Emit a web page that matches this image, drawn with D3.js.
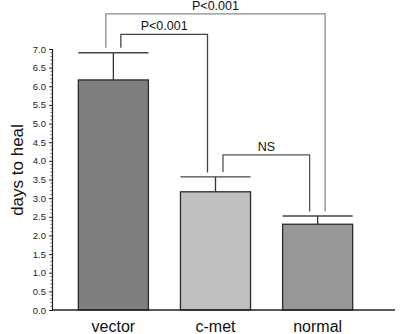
<!DOCTYPE html>
<html><head><meta charset="utf-8">
<script src="https://cdn.jsdelivr.net/npm/d3@7"></script>
<style>body{margin:0;background:#fff}svg{display:block;font-family:Arial,"Liberation Sans",sans-serif}</style>
</head><body>
<svg id="c" width="400" height="334"></svg>
<script>
const categories = ["vector", "c-met", "normal"];
const means = [6.17, 3.17, 2.3];
const errors = [0.73, 0.4, 0.22];
const barColors = ["#7f7f7f", "#c0c0c0", "#979797"];
const yTicks = [0, 0.5, 1, 1.5, 2, 2.5, 3, 3.5, 4, 4.5, 5, 5.5, 6, 6.5, 7];
const tickLabels = ["0.0","0.5","1.0","1.5","2.0","2.5","3.0","3.5","4.0","4.5","5.0","5.5","6.0","6.5","7.0"];
const yLabel = "days to heal";
// comparisons: [from, to, label, bracket level (data units)]
const compFrom = ["vector", "vector", "c-met"];
const compTo = ["normal", "c-met", "normal"];
const compLabel = ["P<0.001", "P<0.001", "NS"];
const compLevel = [7.94, 7.39, 4.16];

const svg = d3.select("#c");
const y = d3.scaleLinear().domain([0, 7]).range([310, 49]);
const x = d3.scaleBand().domain(categories).range([62.3, 368.7]).paddingInner(0.314).paddingOuter(0.157);
const bw = x.bandwidth();
const cx = c => x(c) + bw / 2;

// y axis
const axis = d3.axisLeft(y).tickValues(yTicks).tickFormat((d, i) => tickLabels[i]).tickSize(3).tickPadding(3);
const gA = svg.append("g").attr("transform", "translate(52,0)").call(axis);
gA.select(".domain").attr("stroke", "#222").attr("stroke-width", 1.2);
gA.selectAll(".tick line").attr("stroke", "#222");
gA.selectAll(".tick text").attr("font-size", "9.5px").attr("fill", "#222").attr("font-family", "Arial, 'Liberation Sans', sans-serif");
// minor ticks
const minor = d3.range(0, 7.001, 0.1).filter(v => Math.abs(v * 2 - Math.round(v * 2)) > 1e-6);
svg.append("g").selectAll("line").data(minor).join("line")
  .attr("x1", 50.5).attr("x2", 52).attr("y1", d => y(d)).attr("y2", d => y(d))
  .attr("stroke", "#444").attr("stroke-width", 0.8);

// bars
svg.append("g").selectAll("rect").data(categories).join("rect")
  .attr("x", d => x(d)).attr("width", bw)
  .attr("y", (d, i) => y(means[i])).attr("height", (d, i) => y(0) - y(means[i]))
  .attr("fill", (d, i) => barColors[i]).attr("stroke", "#2a2a2a").attr("stroke-width", 1.3);

// baseline
svg.append("line").attr("x1", 52).attr("x2", 395).attr("y1", y(0)).attr("y2", y(0)).attr("stroke", "#222").attr("stroke-width", 1.3);

// error bars
const eb = svg.append("g");
categories.forEach((c, i) => {
  eb.append("line").attr("x1", cx(c)).attr("x2", cx(c)).attr("y1", y(means[i])).attr("y2", y(means[i] + errors[i])).attr("stroke", "#333").attr("stroke-width", 1.3);
  eb.append("line").attr("x1", x(c)).attr("x2", x(c) + bw).attr("y1", y(means[i] + errors[i])).attr("y2", y(means[i] + errors[i])).attr("stroke", "#444").attr("stroke-width", 1.4);
});

// brackets
const tops = {};
categories.forEach((c, i) => tops[c] = y(means[i] + errors[i]));
const compColors = ["#8a8a8a", "#444", "#555"];
const bg = svg.append("g").attr("fill", "none");
compFrom.forEach((f, i) => {
  const t = compTo[i];
  const x1 = cx(f) + (i === 0 ? -7.5 : 7.5);
  const x2 = cx(t) + (i === 0 ? 7.5 : -8);
  const yl = y(compLevel[i]);
  bg.append("path")
    .attr("d", `M${x1},${tops[f] - 5}V${yl}H${x2}V${tops[t] - 4.5}`)
    .attr("stroke", compColors[i]).attr("stroke-width", 1.3);
  svg.append("text").attr("x", (x1 + x2) / 2).attr("y", yl - 4).attr("text-anchor", "middle")
    .attr("font-size", "12.5px").attr("fill", "#111").text(compLabel[i]);
});

// category labels
svg.append("g").selectAll("text").data(categories).join("text")
  .attr("x", d => cx(d)).attr("y", 332).attr("text-anchor", "middle")
  .attr("font-size", "16px").attr("fill", "#111").text(d => d);

// y label
svg.append("text").attr("transform", "translate(23,170) rotate(-90)").attr("text-anchor", "middle")
  .attr("font-size", "17px").attr("fill", "#111").text(yLabel);
</script>
</body></html>
